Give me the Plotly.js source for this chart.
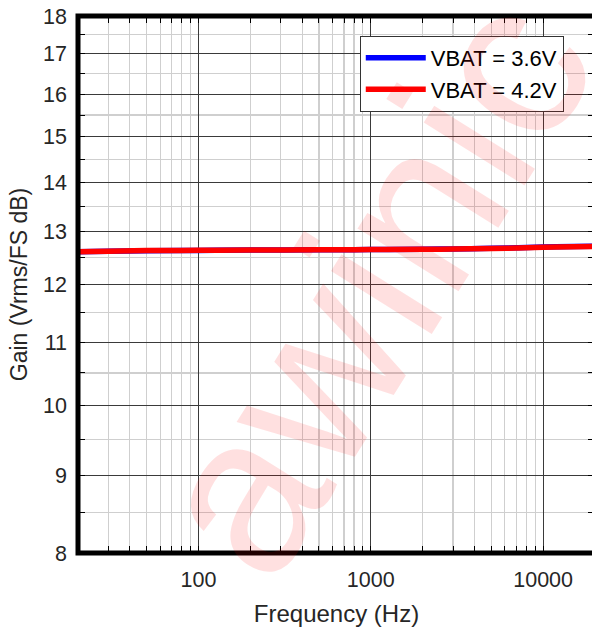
<!DOCTYPE html>
<html>
<head>
<meta charset="utf-8">
<script src="https://cdn.plot.ly/plotly-3.0.1.min.js"></script>
<style>
html, body { margin: 0; padding: 0; overflow: hidden; background: #fff; }
#chart { width: 600px; height: 630px; }
</style>
</head>
<body>
<div id="chart"></div>
<script>
// ---- data ----
const freqHz = [20, 30, 50, 100, 200, 500, 1000, 2000, 3000, 5000, 7000, 10000, 15000, 20000];
const gainVbat36 = [12.607, 12.618, 12.628, 12.633, 12.64, 12.645, 12.65, 12.658, 12.663, 12.674, 12.684, 12.699, 12.709, 12.714];
const gainVbat42 = [12.61, 12.62, 12.63, 12.635, 12.64, 12.645, 12.65, 12.655, 12.66, 12.67, 12.68, 12.695, 12.705, 12.71];
const seriesNames = ['VBAT = 3.6V', 'VBAT = 4.2V'];

const xTickVals = [100, 1000, 10000];
const xTickText = ['100', '1000', '10000'];
const xMinorVals = [30, 40, 50, 60, 70, 80, 90, 200, 300, 400, 500, 600, 700, 800, 900,
                    2000, 3000, 4000, 5000, 6000, 7000, 8000, 9000];
const yTickVals = [8, 9, 10, 11, 12, 13, 14, 15, 16, 17, 18];
const yTickText = ['8', '9', '10', '11', '12', '13', '14', '15', '16', '17', '18'];
const yMinorVals = [8.5, 9.5, 10.5, 11.5, 12.5, 13.5, 14.5, 15.5, 16.5, 17.5];
const xRange = [20, 20000];
const yRange = [8, 18];
const watermark = 'awinic';

const FONT = 'Liberation Sans, Arial, sans-serif';
const TXT = '#262626';

const traces = [
  { x: freqHz, y: gainVbat36, name: seriesNames[0], type: 'scatter', mode: 'lines',
    line: { color: '#0000ff', width: 5.5, shape: 'spline' } },
  { x: freqHz, y: gainVbat42, name: seriesNames[1], type: 'scatter', mode: 'lines',
    line: { color: '#ff0000', width: 5.5, shape: 'spline' } }
];

const layout = {
  width: 600, height: 630,
  margin: { l: 78, r: 5, t: 16, b: 77, pad: 0 },
  paper_bgcolor: '#ffffff',
  plot_bgcolor: 'rgba(0,0,0,0)',
  font: { family: FONT, color: TXT },
  showlegend: true,
  legend: {
    x: 0.545, y: 0.963, xanchor: 'left', yanchor: 'top',
    bgcolor: '#ffffff', bordercolor: '#333333', borderwidth: 1,
    font: { family: FONT, size: 22, color: '#000000' },
    itemwidth: 60
  },
  xaxis: {
    type: 'log',
    range: [Math.log10(xRange[0]), Math.log10(xRange[1])],
    tickmode: 'array', tickvals: xTickVals, ticktext: xTickText,
    tickfont: { family: FONT, size: 21.5, color: TXT },
    ticks: 'inside', ticklen: 7, tickwidth: 1, tickcolor: '#000',
    mirror: 'allticks', showline: false, zeroline: false,
    showgrid: true, gridcolor: '#3a3a3a', gridwidth: 1,
    ticklabelstandoff: 11,
    minor: { tickmode: 'array', tickvals: xMinorVals, ticks: 'inside', ticklen: 7, tickcolor: '#000',
             showgrid: true, gridcolor: '#cfcfcf', gridwidth: 1.2 },
    title: { text: 'Frequency (Hz)', font: { family: FONT, size: 24, color: TXT }, standoff: 14 },
    automargin: false
  },
  yaxis: {
    type: 'log',
    range: [Math.log10(yRange[0]), Math.log10(yRange[1])],
    tickmode: 'array', tickvals: yTickVals, ticktext: yTickText,
    tickfont: { family: FONT, size: 21.5, color: TXT },
    ticks: 'inside', ticklen: 7, tickwidth: 1, tickcolor: '#000',
    mirror: 'allticks', showline: false, zeroline: false,
    showgrid: true, gridcolor: '#3a3a3a', gridwidth: 1,
    ticklabelstandoff: 10,
    minor: { tickmode: 'array', tickvals: yMinorVals, ticks: 'inside', ticklen: 7, tickcolor: '#000',
             showgrid: true, gridcolor: '#cfcfcf', gridwidth: 1.2 },
    title: { text: 'Gain (Vrms/FS dB)', font: { family: FONT, size: 23, color: TXT }, standoff: 9 },
    automargin: false
  },
  shapes: [
    { type: 'rect', xref: 'paper', yref: 'paper', x0: 0, x1: 1, y0: 0, y1: 1,
      line: { color: '#000000', width: 5 }, fillcolor: 'rgba(0,0,0,0)', layer: 'above' }
  ],
  annotations: [
    { text: watermark, xref: 'paper', yref: 'paper', x: 0.565, y: 0.50,
      xanchor: 'center', yanchor: 'middle', showarrow: false, textangle: -58,
      font: { family: FONT, size: 225, color: 'rgba(255,0,0,0.12)' } }
  ]
};

Plotly.newPlot('chart', traces, layout, { displayModeBar: false, staticPlot: true });
</script>
</body>
</html>
